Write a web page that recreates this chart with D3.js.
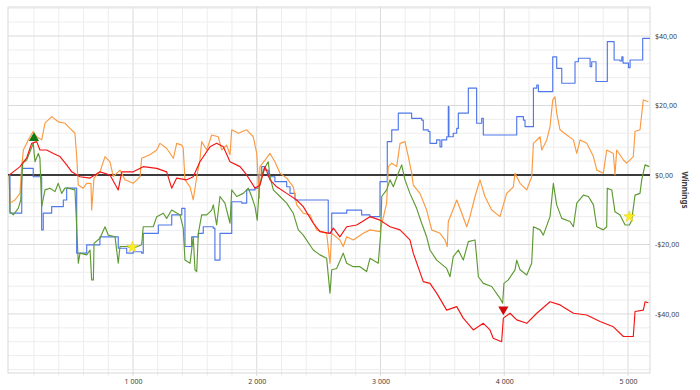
<!DOCTYPE html>
<html>
<head>
<meta charset="utf-8">
<script src="https://cdn.jsdelivr.net/npm/d3@7"></script>
<style>
  body { margin: 0; background: #fff; }
  text { font-family: "Noto Sans", sans-serif; }
</style>
</head>
<body>
<div id="chart"></div>
<script>
// hands played vs winnings ($)
var bluePts = [[0,0],[6,-11.0],[101,1.9],[194,-0.5],[262,-15.8],[275,-11.0],[343,-9.1],[437,-7.2],[464,-3.8],
  [545,-22.5],[626,-20.1],[733,-17.8],[881,-21.1],[949,-22.5],[1002,-22.1],[1070,-22.5],[1083,-16.8],[1205,-14.4],
  [1313,-11.5],[1394,-9.6],[1420,-20.6],[1474,-17.8],[1528,-16.8],[1568,-14.9],[1649,-15.3],[1662,-24.5],[1703,-16.8],
  [1798,-7.7],[1879,-8.1],[1919,-4.3],[1986,-3.8],[2013,0],[2040,2.4],[2067,1.4],[2093,-0.5],[2147,-1.9],[2242,-3.4],
  [2269,-5.3],[2309,-7.2],[2578,-16.8],[2606,-11.0],[2727,-10.1],[2848,-11.5],[2915,-12.0],[2996,-1.9],[3055,9.6],
  [3091,13.0],[3144,17.8],[3252,16.3],[3333,15.8],[3346,13.0],[3386,12.5],[3400,9.1],[3454,10.1],[3481,8.1],[3495,10.1],
  [3535,11.0],[3548,19.7],[3553,11.0],[3588,12.0],[3616,13.4],[3629,17.8],[3710,25.0],[3777,14.9],[3818,16.3],
  [3831,11.5],[4101,16.8],[4155,15.8],[4168,13.9],[4236,25.0],[4263,25.9],[4276,24.0],[4392,34.0],[4424,30.7],
  [4465,26.4],[4572,32.6],[4599,33.6],[4694,31.2],[4707,32.6],[4742,26.9],[4833,38.4],[4888,33.1],[4936,32.8],
  [4950,34.0],[4960,32.2],[5004,30.9],[5017,33.1],[5119,39.3],[5178,39.3]];

var orangePts = [[0,0],[6,-8.1],[46,-7.2],[87,-5.3],[101,2.4],[114,7.2],[154,10.1],[194,12.5],[222,11.0],[262,10.1],
  [289,14.9],[343,16.8],[396,15.3],[450,14.9],[491,13.4],[531,12.0],[545,5.3],[558,-2.9],[598,-3.8],[626,-2.4],[660,-2.4],
  [666,-10.1],[685,-0.9],[733,0.9],[774,5.3],[814,3.8],[841,-0.5],[895,1.4],[935,-1.4],[1002,-2.4],[1057,-0.5],[1070,4.8],
  [1137,5.8],[1192,7.2],[1218,9.1],[1272,7.7],[1326,4.8],[1353,9.1],[1394,8.6],[1406,7.7],[1420,-1.4],[1461,-3.4],
  [1487,-7.2],[1515,-0.5],[1541,4.3],[1555,9.6],[1596,7.2],[1636,11.5],[1689,11.0],[1717,7.2],[1757,8.6],[1784,5.8],
  [1798,13.0],[1851,12.0],[1919,13.0],[1972,11.0],[2000,6.2],[2021,-6.7],[2026,2.4],[2067,4.3],[2107,6.2],[2147,3.8],
  [2188,0.5],[2242,-0.9],[2295,-3.4],[2323,-8.6],[2376,-11.0],[2430,-11.5],[2484,-15.8],[2565,-16.8],[2592,-25.4],
  [2606,-16.8],[2672,-18.7],[2699,-20.6],[2727,-17.8],[2780,-18.7],[2861,-16.8],[2915,-15.8],[2996,-16.3],[3050,-8.1],
  [3063,2.4],[3091,3.4],[3131,2.4],[3158,9.1],[3198,9.6],[3225,5.3],[3252,0.5],[3265,-2.9],[3319,-5.3],[3373,-10.1],
  [3414,-15.8],[3481,-16.8],[3521,-18.7],[3540,-20.6],[3548,-13.4],[3575,-11.0],[3616,-7.2],[3642,-9.6],[3697,-14.9],
  [3723,-12.0],[3764,-6.2],[3804,-1.4],[3844,-6.2],[3899,-10.1],[3966,-12.0],[3993,-8.6],[4020,-5.3],[4074,-3.4],
  [4087,0.5],[4128,-2.4],[4182,-4.3],[4222,-0.5],[4236,9.1],[4290,11.0],[4303,7.2],[4344,10.1],[4370,13.9],[4392,21.6],
  [4410,22.5],[4424,17.8],[4451,13.0],[4505,11.5],[4559,10.1],[4586,6.2],[4613,10.1],[4667,9.1],[4721,5.3],[4748,1.4],
  [4801,0.5],[4828,7.2],[4882,6.2],[4895,0],[4909,7.2],[4963,4.3],[4990,3.4],[5043,5.3],[5057,12.5],[5097,13.0],
  [5124,21.6],[5165,21.1]];

var greenPts = [[0,0],[6,-10.6],[33,-11.5],[73,-9.6],[93,-7.2],[109,3.4],[141,4.3],[173,7.2],[194,9.1],[208,3.8],
  [235,6.2],[248,4.8],[262,-9.1],[289,-4.3],[329,-3.8],[370,-4.8],[396,-2.4],[424,-5.3],[450,-3.8],[477,-3.8],[531,-4.3],
  [545,-14.9],[558,-25.4],[572,-22.5],[626,-23.0],[653,-21.6],[666,-30.2],[680,-30.2],[685,-19.7],[733,-18.2],
  [774,-14.9],[800,-17.3],[855,-17.8],[881,-25.4],[895,-20.6],[949,-20.6],[1002,-21.1],[1070,-20.1],[1083,-14.9],
  [1164,-14.9],[1192,-12.0],[1245,-11.0],[1272,-12.5],[1313,-10.1],[1380,-11.5],[1406,-15.3],[1420,-24.5],[1461,-25.4],
  [1487,-17.8],[1501,-27.3],[1515,-27.8],[1528,-16.8],[1555,-11.5],[1596,-11.5],[1636,-10.1],[1649,-8.6],[1676,-14.4],
  [1703,-6.2],[1743,-8.1],[1784,-13.9],[1798,-4.3],[1838,-6.2],[1891,-5.3],[1932,-3.8],[1959,-6.2],[1986,-9.1],
  [2004,-13.0],[2021,-3.4],[2053,1.4],[2093,3.8],[2107,-0.5],[2134,-4.3],[2188,-6.2],[2242,-8.1],[2295,-11.0],
  [2336,-15.8],[2376,-17.3],[2457,-21.6],[2511,-23.0],[2565,-24.0],[2592,-34.0],[2606,-27.3],[2646,-26.9],[2699,-22.5],
  [2727,-25.4],[2780,-26.4],[2834,-26.4],[2888,-27.8],[2915,-24.0],[2982,-25.4],[3002,-16.8],[3010,-6.2],[3050,-4.3],
  [3077,-1.4],[3104,-3.4],[3144,0.5],[3171,2.9],[3198,-1.4],[3238,-5.3],[3292,-9.6],[3333,-13.9],[3373,-17.8],
  [3400,-21.6],[3454,-24.5],[3535,-26.9],[3562,-29.3],[3588,-23.5],[3629,-21.6],[3669,-24.5],[3710,-19.2],[3764,-18.7],
  [3777,-23.5],[3791,-29.3],[3831,-31.2],[3899,-32.1],[3966,-35.5],[3987,-36.9],[3998,-31.2],[4033,-30.2],[4087,-27.3],
  [4101,-24.5],[4128,-27.3],[4182,-28.8],[4222,-25.4],[4236,-14.9],[4290,-15.8],[4316,-17.3],[4370,-12.0],[4397,-2.4],
  [4424,-8.6],[4465,-12.5],[4532,-13.4],[4559,-14.9],[4586,-8.1],[4640,-5.8],[4680,-6.2],[4721,-8.6],[4748,-14.9],
  [4801,-15.8],[4828,-14.9],[4833,-3.8],[4869,-4.3],[4895,-10.6],[4936,-11.5],[4977,-14.4],[5012,-14.4],[5030,-13.0],
  [5057,-5.8],[5097,-5.3],[5111,-1.4],[5138,2.9],[5172,2.4]];

var redPts = [[0,0],[33,0.9],[87,2.4],[141,4.9],[181,9.1],[222,9.6],[248,7.2],[303,7.2],[356,6.2],[410,5.3],[464,2.9],
  [505,0.9],[572,-0.5],[653,-0.9],[733,0.9],[814,0],[881,-4.3],[909,0.9],[1002,0.9],[1083,2.4],[1192,1.9],[1272,0.9],
  [1313,-3.8],[1353,-0.9],[1434,-1.4],[1487,-0.5],[1541,3.8],[1622,8.1],[1676,9.1],[1730,8.1],[1784,3.8],[1865,2.4],
  [1919,0],[1986,-3.8],[2026,-2.9],[2067,2.4],[2107,-1.4],[2161,-3.4],[2242,-5.3],[2323,-7.2],[2376,-9.1],[2457,-13.9],
  [2511,-16.3],[2592,-16.8],[2619,-15.3],[2672,-17.8],[2727,-14.9],[2808,-14.4],[2915,-12.0],[2996,-13.0],[3077,-14.9],
  [3158,-15.8],[3238,-18.7],[3265,-22.5],[3346,-30.7],[3400,-31.2],[3454,-34.0],[3535,-38.9],[3616,-37.9],[3669,-41.2],
  [3750,-44.6],[3831,-42.7],[3885,-44.6],[3911,-47.0],[3979,-48.0],[3993,-41.2],[4047,-39.8],[4101,-41.7],[4182,-42.7],
  [4263,-39.8],[4370,-36.5],[4451,-37.4],[4559,-39.8],[4667,-40.3],[4774,-42.2],[4882,-43.7],[4963,-46.5],[5043,-46.5],
  [5057,-39.3],[5124,-38.9],[5138,-36.5],[5165,-36.8]];

var highMark = [200, 10.6];
var lowMark = [3993, -38.7];
var starMarks = [[995, -20.8], [5012, -12.0]];

var xTicks = [1000, 2000, 3000, 4000, 5000];
var yTicks = [-40, -20, 0, 20, 40];

var svgWidth = 700, svgHeight = 390;
var plot = { left: 8, right: 650, top: 7, bottom: 373 };

var svg = d3.select("#chart").append("svg")
  .attr("width", svgWidth)
  .attr("height", svgHeight);

var x = d3.scaleLinear().domain([-10, 5178]).range([plot.left, plot.right]);
var y = d3.scaleLinear().domain([-57, 48.35]).range([plot.bottom, plot.top]);

var loc = d3.formatLocale({ decimal: ",", thousands: " ", grouping: [3], currency: ["$", ""], minus: "-" });
var fmtX = loc.format(",d");
var fmtY = loc.format("$,.2f");

// grid lines
var grid = svg.append("g");
grid.selectAll(".vminor").data(d3.range(200, 5178, 200)).enter().append("line")
  .attr("x1", d => x(d)).attr("x2", d => x(d))
  .attr("y1", plot.top).attr("y2", plot.bottom + 3)
  .attr("stroke", d => d % 1000 === 0 ? "#dadada" : "#ededed")
  .attr("stroke-width", 1);
grid.selectAll(".hminor").data(d3.range(-56, 49, 4)).enter().append("line")
  .attr("x1", plot.left).attr("x2", plot.right)
  .attr("y1", d => y(d)).attr("y2", d => y(d))
  .attr("stroke", d => d % 20 === 0 ? "#dadada" : "#ededed")
  .attr("stroke-width", 1);

svg.append("rect")
  .attr("x", plot.left).attr("y", plot.top)
  .attr("width", plot.right - plot.left).attr("height", plot.bottom - plot.top)
  .attr("fill", "none").attr("stroke", "#d9d9d9");

// zero line
svg.append("line")
  .attr("x1", plot.left).attr("x2", plot.right)
  .attr("y1", y(0)).attr("y2", y(0))
  .attr("stroke", "#000").attr("stroke-width", 1.6);

// axes
var xAxis = svg.append("g")
  .attr("transform", `translate(0, ${plot.bottom})`)
  .call(d3.axisBottom(x).tickValues(xTicks).tickFormat(fmtX).tickSize(0).tickPadding(6));
var yAxis = svg.append("g")
  .attr("transform", `translate(${plot.right}, 0)`)
  .call(d3.axisRight(y).tickValues(yTicks).tickFormat(fmtY).tickSize(0).tickPadding(5));
[xAxis, yAxis].forEach(function(a) {
  a.select(".domain").remove();
  a.selectAll("text").style("font-size", "7px").style("fill", "#404040")
    .style("font-family", "'Noto Sans', sans-serif");
});

svg.append("text")
  .attr("transform", `translate(682, 190) rotate(90)`)
  .attr("text-anchor", "middle")
  .style("font-size", "8px")
  .style("font-weight", "bold")
  .attr("fill", "#404040")
  .text("Winnings");

// series
var lineLin = d3.line().x(d => x(d[0])).y(d => y(d[1]));
var lineStep = d3.line().x(d => x(d[0])).y(d => y(d[1])).curve(d3.curveStepAfter);

var series = [
  { pts: bluePts, color: "#4f78ea", gen: lineStep },
  { pts: orangePts, color: "#fb9a40", gen: lineLin },
  { pts: greenPts, color: "#5e9a32", gen: lineLin },
  { pts: redPts, color: "#f41414", gen: lineLin }
];
series.forEach(function(s) {
  svg.append("path")
    .datum(s.pts)
    .attr("d", s.gen)
    .attr("fill", "none")
    .attr("stroke", s.color)
    .attr("stroke-width", 1.15)
    .attr("stroke-linejoin", "round");
});

// markers
svg.append("path")
  .attr("d", d3.symbol(d3.symbolTriangle, 45))
  .attr("transform", `translate(${x(highMark[0])}, ${y(highMark[1])})`)
  .attr("fill", "#157a15");
svg.append("path")
  .attr("d", d3.symbol(d3.symbolTriangle, 45))
  .attr("transform", `translate(${x(lowMark[0])}, ${y(lowMark[1])}) rotate(180)`)
  .attr("fill", "#d20a0a");
svg.selectAll(".star").data(starMarks).enter().append("path")
  .attr("d", d3.symbol(d3.symbolStar, 40))
  .attr("transform", d => `translate(${x(d[0])}, ${y(d[1])})`)
  .attr("fill", "#ffee22")
  .attr("stroke", "#e0c800")
  .attr("stroke-width", 0.5);
</script>
</body>
</html>
